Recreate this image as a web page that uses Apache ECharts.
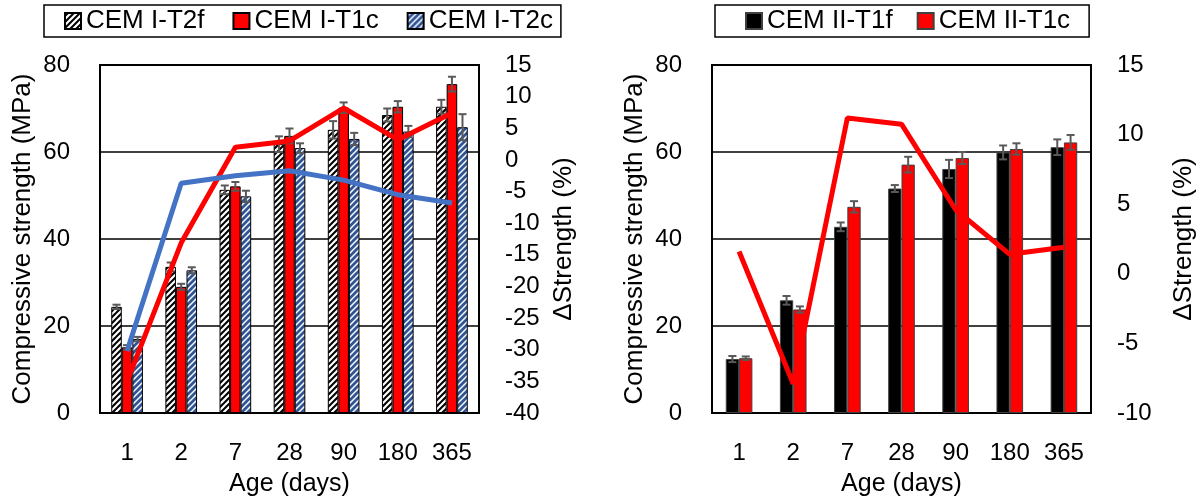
<!DOCTYPE html>
<html>
<head>
<meta charset="utf-8">
<script src="https://cdn.jsdelivr.net/npm/echarts@6/dist/echarts.min.js"></script>
<style>
  html, body { margin: 0; padding: 0; background: #fff; }
  #chart { width: 1200px; height: 502px; }
</style>
</head>
<body>
<div id="chart"></div>
<script>
// Curing age categories (days)
const ages = ['1', '2', '7', '28', '90', '180', '365'];

// CEM I mixes: mean compressive strength (MPa) and standard deviation
const cemI_T2f = [24.4, 33.6, 51.3, 61.8, 65.1, 68.5, 70.4];
const cemI_T2f_sd = [0.5, 1.0, 1.0, 1.8, 2.0, 1.5, 1.6];
const cemI_T1c = [15.1, 29.0, 52.1, 63.7, 70.2, 70.4, 75.6];
const cemI_T1c_sd = [0.5, 0.7, 1.0, 1.7, 1.2, 1.3, 1.7];
const cemI_T2c = [17.0, 32.8, 49.8, 60.9, 63.0, 64.7, 65.7];
const cemI_T2c_sd = [0.5, 0.7, 1.3, 1.1, 1.4, 1.3, 3.0];

// CEM I: strength difference (%)
const cemI_dT1c = [-35.0, -13.1, 2.0, 3.0, 8.2, 3.2, 7.4];
const cemI_dT2c = [-30.2, -3.7, -2.5, -1.7, -3.2, -5.5, -6.8];

// CEM II mixes: mean compressive strength (MPa) and standard deviation
const cemII_T1f = [12.4, 25.9, 42.8, 51.6, 56.1, 59.9, 61.1];
const cemII_T1f_sd = [0.7, 1.0, 1.0, 0.8, 2.1, 1.6, 1.8];
const cemII_T1c = [12.6, 23.8, 47.4, 57.1, 58.6, 60.7, 62.2];
const cemII_T1c_sd = [0.4, 0.7, 1.3, 1.8, 1.4, 1.3, 1.7];

// CEM II: strength difference (%)
const cemII_dT1c = [1.6, -7.9, 11.2, 10.75, 4.6, 1.4, 1.9];

const FONT = "'Liberation Sans', Arial, Helvetica, sans-serif";

// Diagonal hatch fill used for the patterned bars
function hatch(bg, fg, lineW) {
  const s = 6;
  const c = document.createElement('canvas');
  c.width = s; c.height = s;
  const g = c.getContext('2d');
  g.fillStyle = bg;
  g.fillRect(0, 0, s, s);
  g.strokeStyle = fg;
  g.lineWidth = lineW;
  g.beginPath();
  g.moveTo(-1, s + 1); g.lineTo(s + 1, -1);
  g.moveTo(-1, 1); g.lineTo(1, -1);
  g.moveTo(s - 1, s + 1); g.lineTo(s + 1, s - 1);
  g.stroke();
  return { image: c, repeat: 'repeat' };
}

const blackHatch = hatch('#000000', '#ffffff', 2.2);
const blueHatch = hatch('#ffffff', '#2F5597', 2.8);

// Error bars drawn at the centre of the n-th bar of a group
function errorBars(idx, count, frac) {
  return function (params, api) {
    const cat = api.value(0);
    const lo = api.value(1);
    const hi = api.value(2);
    const band = api.size([1, 0])[0];
    const dx = (idx - (count - 1) / 2) * frac * band;
    const top = api.coord([cat, hi]);
    const bot = api.coord([cat, lo]);
    const x = top[0] + dx;
    const w = 4;
    const style = { stroke: '#595959', lineWidth: 2 };
    return {
      type: 'group',
      children: [
        { type: 'line', shape: { x1: x, y1: top[1], x2: x, y2: bot[1] }, style },
        { type: 'line', shape: { x1: x - w, y1: top[1], x2: x + w, y2: top[1] }, style },
        { type: 'line', shape: { x1: x - w, y1: bot[1], x2: x + w, y2: bot[1] }, style }
      ]
    };
  };
}

function errData(mean, sd) {
  return mean.map((m, i) => [i, m - sd[i], m + sd[i]]);
}

const LEFT_FRAC = 0.195;
const RIGHT_FRAC = 0.246;

function catAxis(gridIndex) {
  return {
    type: 'category',
    gridIndex,
    data: ages,
    axisTick: { show: false },
    axisLine: { show: true, lineStyle: { color: '#000', width: 2 } },
    axisLabel: { color: '#000', fontSize: 24, fontFamily: FONT, margin: 28 },
    name: 'Age (days)',
    nameLocation: 'middle',
    nameGap: 59,
    nameTextStyle: { color: '#000', fontSize: 25, fontFamily: FONT }
  };
}

function strengthAxis(gridIndex) {
  return {
    type: 'value',
    gridIndex,
    position: 'left',
    min: 0, max: 80, interval: 20,
    axisLine: { show: false },
    axisTick: { show: false },
    splitLine: { show: true, lineStyle: { color: '#000', width: 1.5 } },
    axisLabel: { color: '#000', fontSize: 24, fontFamily: FONT, margin: 30 },
    name: 'Compressive strength (MPa)',
    nameLocation: 'middle',
    nameRotate: 90,
    nameGap: 64,
    nameTextStyle: { color: '#000', fontSize: 26, fontFamily: FONT }
  };
}

function deltaAxis(gridIndex, min, max, gap) {
  return {
    type: 'value',
    gridIndex,
    position: 'right',
    min, max, interval: 5,
    axisLine: { show: false },
    axisTick: { show: false },
    splitLine: { show: false },
    axisLabel: { color: '#000', fontSize: 24, fontFamily: FONT, margin: 26 },
    name: 'ΔStrength (%)',
    nameLocation: 'middle',
    nameRotate: 90,
    nameGap: gap,
    nameTextStyle: { color: '#000', fontSize: 26, fontFamily: FONT }
  };
}

function legend(left, names, padding, gap) {
  return {
    left, top: 5,
    data: names,
    orient: 'horizontal',
    selectedMode: false,
    icon: 'rect',
    itemWidth: 16, itemHeight: 16,
    itemGap: gap,
    padding,
    borderColor: '#000', borderWidth: 1.5,
    textStyle: { color: '#000', fontSize: 26, fontFamily: FONT }
  };
}

const barBorder = { borderColor: '#000', borderWidth: 1 };

const option = {
  animation: false,
  backgroundColor: '#fff',
  legend: [
    legend(44, ['CEM I-T2f', 'CEM I-T1c', 'CEM I-T2c'], [3, 8, 3, 20], 28),
    legend(715, ['CEM II-T1f', 'CEM II-T1c'], [3, 19, 3, 30], 24)
  ],
  grid: [
    { left: 100, right: 721, top: 65, bottom: 88.5, show: true, borderColor: '#000', borderWidth: 2, backgroundColor: 'transparent' },
    { left: 712, right: 109, top: 65, bottom: 88.5, show: true, borderColor: '#000', borderWidth: 2, backgroundColor: 'transparent' }
  ],
  xAxis: [catAxis(0), catAxis(1)],
  yAxis: [
    strengthAxis(0),
    deltaAxis(0, -40, 15, 72),
    strengthAxis(1),
    deltaAxis(1, -10, 15, 80)
  ],
  series: [
    // CEM I bars
    { name: 'CEM I-T2f', type: 'bar', xAxisIndex: 0, yAxisIndex: 0, data: cemI_T2f,
      barWidth: (LEFT_FRAC * 100) + '%', barGap: '0%', z: 2,
      itemStyle: Object.assign({ color: blackHatch }, barBorder) },
    { name: 'CEM I-T1c', type: 'bar', xAxisIndex: 0, yAxisIndex: 0, data: cemI_T1c,
      barWidth: (LEFT_FRAC * 100) + '%', barGap: '0%', z: 2,
      itemStyle: Object.assign({ color: '#FF0000' }, barBorder) },
    { name: 'CEM I-T2c', type: 'bar', xAxisIndex: 0, yAxisIndex: 0, data: cemI_T2c,
      barWidth: (LEFT_FRAC * 100) + '%', barGap: '0%', z: 2,
      itemStyle: Object.assign({ color: blueHatch }, barBorder) },
    // CEM I error bars
    { type: 'custom', xAxisIndex: 0, yAxisIndex: 0, z: 3, silent: true,
      renderItem: errorBars(0, 3, LEFT_FRAC), data: errData(cemI_T2f, cemI_T2f_sd) },
    { type: 'custom', xAxisIndex: 0, yAxisIndex: 0, z: 3, silent: true,
      renderItem: errorBars(1, 3, LEFT_FRAC), data: errData(cemI_T1c, cemI_T1c_sd) },
    { type: 'custom', xAxisIndex: 0, yAxisIndex: 0, z: 3, silent: true,
      renderItem: errorBars(2, 3, LEFT_FRAC), data: errData(cemI_T2c, cemI_T2c_sd) },
    // CEM I strength differences
    { name: 'ΔCEM I-T1c', type: 'line', xAxisIndex: 0, yAxisIndex: 1, data: cemI_dT1c,
      showSymbol: false, z: 4, lineStyle: { color: '#FF0000', width: 5 } },
    { name: 'ΔCEM I-T2c', type: 'line', xAxisIndex: 0, yAxisIndex: 1, data: cemI_dT2c,
      showSymbol: false, z: 4, lineStyle: { color: '#4472C4', width: 5 } },

    // CEM II bars
    { name: 'CEM II-T1f', type: 'bar', xAxisIndex: 1, yAxisIndex: 2, data: cemII_T1f,
      barWidth: (RIGHT_FRAC * 100) + '%', barGap: '0%', z: 2,
      itemStyle: { color: '#000000', borderColor: '#404040', borderWidth: 1 } },
    { name: 'CEM II-T1c', type: 'bar', xAxisIndex: 1, yAxisIndex: 2, data: cemII_T1c,
      barWidth: (RIGHT_FRAC * 100) + '%', barGap: '0%', z: 2,
      itemStyle: { color: '#FF0000', borderColor: '#404040', borderWidth: 1 } },
    // CEM II error bars
    { type: 'custom', xAxisIndex: 1, yAxisIndex: 2, z: 3, silent: true,
      renderItem: errorBars(0, 2, RIGHT_FRAC), data: errData(cemII_T1f, cemII_T1f_sd) },
    { type: 'custom', xAxisIndex: 1, yAxisIndex: 2, z: 3, silent: true,
      renderItem: errorBars(1, 2, RIGHT_FRAC), data: errData(cemII_T1c, cemII_T1c_sd) },
    // CEM II strength difference
    { name: 'ΔCEM II-T1c', type: 'line', xAxisIndex: 1, yAxisIndex: 3, data: cemII_dT1c,
      showSymbol: false, z: 4, lineStyle: { color: '#FF0000', width: 5 } }
  ]
};

const chart = echarts.init(document.getElementById('chart'), null, { renderer: 'canvas' });
chart.setOption(option);
</script>
</body>
</html>
